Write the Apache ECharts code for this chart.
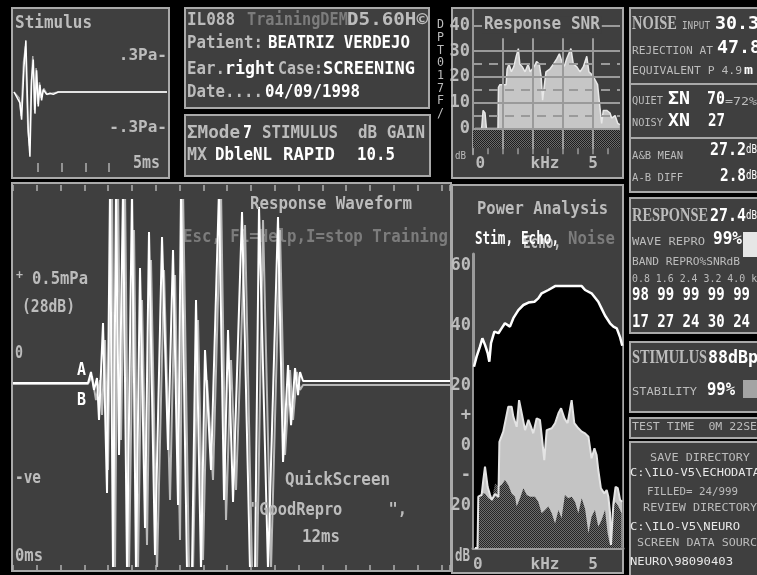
<!DOCTYPE html>
<html>
<head>
<meta charset="utf-8">
<script src="https://cdn.jsdelivr.net/npm/echarts@6/dist/echarts.min.js"></script>
<style>
  html, body { margin: 0; padding: 0; background: #000; }
  #main { width: 757px; height: 575px; }
</style>
</head>
<body>
<div id="main"></div>
<script>
// ---- Stimulus click (ms, Pa), two recordings ----
const stimA = [[0,0],[0.04,0],[0.25,-0.09],[0.32,-0.23],[0.42,0.21],[0.5,0.43],[0.6,-0.33],[0.67,-0.54],[0.74,0.1],[0.81,0.27],[0.88,-0.18],[0.95,0.18],[1.02,-0.12],[1.09,0.06],[1.16,-0.07],[1.23,0.02],[1.37,-0.02],[1.51,-0.01],[1.65,-0.02],[1.86,0],[6.43,0]];
const stimB = [[0,0],[0.04,0],[0.22,-0.05],[0.3,-0.2],[0.4,0.25],[0.48,0.38],[0.58,-0.3],[0.65,-0.45],[0.72,0.05],[0.79,0.3],[0.86,-0.15],[0.93,0.2],[1.0,-0.1],[1.07,0.08],[1.14,-0.05],[1.25,0.03],[1.4,-0.02],[1.6,-0.01],[1.86,0],[6.43,0]];

// ---- Response SNR by frequency (kHz, dB) ----
const snrCurve = [[0.08,0],[0.36,0],[0.42,7],[0.5,6],[0.56,0],[1.04,0],[1.06,16],[1.12,17],[1.38,17],[1.42,23],[1.5,25],[1.6,22],[1.7,24],[1.8,28],[1.89,31],[1.95,25],[2.05,24],[2.17,22],[2.3,25],[2.38,22],[2.45,22],[2.55,24],[2.65,26],[2.76,25],[2.84,20],[2.9,11],[2.98,11],[3.04,22],[3.2,23],[3.35,25],[3.49,27],[3.6,29],[3.7,26],[3.8,24],[3.9,27],[4.08,31],[4.18,25],[4.32,24],[4.46,22],[4.6,24],[4.74,28],[4.83,22],[4.94,21],[5.08,19],[5.19,17],[5.29,8],[5.36,2],[5.43,7],[5.57,7],[5.71,6],[5.78,4],[5.92,5],[6.03,2],[6.12,1.5]];
const snrNoiseFloor = -7.5;
const snrSolidLines = [0, 10, 20, 30, 40];
const snrDashedLines = [5, 15, 25];
const snrFreqLines = [1.25, 2.5, 3.75, 5];

// ---- Power analysis spectra (kHz, dB) ----
const stimSpectrum = [[0.04,26.4],[0.15,29.8],[0.29,33.1],[0.39,35.9],[0.5,33.7],[0.61,31],[0.68,28.1],[0.75,34.3],[0.89,38.1],[1.06,37.6],[1.19,39.2],[1.33,40.9],[1.54,39.8],[1.68,42.6],[1.89,45.3],[2.1,47],[2.31,47.8],[2.56,48.1],[2.72,49.2],[2.86,50.9],[3.14,52],[3.42,53.3],[3.83,53.3],[4.53,53.3],[4.67,52],[4.94,50.9],[5.22,48.1],[5.36,45.8],[5.5,43.5],[5.71,40.9],[5.85,39.8],[5.99,39.2],[6.13,36.2],[6.22,33.4]];
const echoSpectrum = [[0.08,-34],[0.19,-34],[0.22,-16.9],[0.36,-16.3],[0.43,-11.3],[0.5,-6.9],[0.57,-7.4],[0.61,-13.6],[0.71,-16.3],[0.78,-18],[0.92,-16],[1.06,-17],[1.1,1.4],[1.26,4.8],[1.47,13.1],[1.61,13.1],[1.68,9.8],[1.82,6.4],[1.92,15.3],[2.03,10.9],[2.17,5.3],[2.31,8.7],[2.42,6.4],[2.51,4.2],[2.65,9.2],[2.79,8.7],[2.86,3.7],[2.97,-4.7],[3.07,5.3],[3.28,5.9],[3.42,7.6],[3.56,10.9],[3.67,12.6],[3.81,9.2],[3.94,7.6],[4.11,15.3],[4.22,7.6],[4.39,5.9],[4.53,4.8],[4.67,4.2],[4.81,3.1],[4.94,-4.1],[5.06,-0.8],[5.15,-3],[5.22,-8],[5.33,-14.1],[5.47,-15.8],[5.57,-14.7],[5.64,-16.9],[5.71,-22.4],[5.75,-33],[5.85,-19.1],[5.94,-13.6],[6.03,-14],[6.13,-18],[6.22,-18.6]];
const noiseSpectrum = [[0.15,-34],[0.22,-16.9],[0.36,-15.8],[0.5,-15.8],[0.64,-17.4],[0.78,-18],[0.92,-12.4],[1.06,-13.6],[1.19,-13],[1.33,-11.3],[1.47,-13],[1.61,-15.8],[1.75,-16.9],[1.82,-20.2],[1.96,-17.4],[2.1,-14.1],[2.24,-16.3],[2.38,-16.9],[2.58,-16.9],[2.72,-18.6],[2.86,-22.4],[3.0,-21.3],[3.14,-20.2],[3.28,-22.4],[3.42,-25.8],[3.56,-21.3],[3.69,-24.1],[3.83,-16.3],[3.97,-17.4],[4.11,-16.9],[4.25,-18.6],[4.39,-22.4],[4.53,-17.4],[4.67,-21],[4.81,-29.1],[4.94,-23.6],[5.08,-21.3],[5.22,-26.9],[5.36,-24.7],[5.5,-21.3],[5.61,-29.1],[5.71,-33],[5.85,-20.2],[5.94,-18.6],[6.06,-20.2],[6.19,-22.4]];

// ---- Response waveforms A and B (ms, in units of 0.5 mPa; display clips at +/-1) ----
const waveA = [[0,0],[3.151,0],[3.277,0.06],[3.403,-0.038],[3.529,0.027],[3.613,-0.202],[3.782,0.328],[3.95,-0.601],[4.076,1.055],[4.202,-1.022],[4.328,1.055],[4.454,-0.393],[4.622,1.055],[4.79,-1.022],[5.0,1.055],[5.168,-1.022],[5.336,0.628],[5.546,-0.792],[5.714,0.825],[5.966,-0.94],[6.261,0.798],[6.513,-0.366],[6.723,0.727],[6.933,-0.667],[7.059,1.055],[7.311,-1.022],[7.521,-1.022],[7.689,0.454],[7.899,-1.022],[8.067,0.18],[8.319,-0.475],[8.655,1.055],[8.866,-0.639],[9.034,0.29],[9.244,-0.65],[9.622,0.934],[9.958,-1.022],[10.168,-1.022],[10.336,0.962],[10.714,-1.022],[11.134,0.907],[11.345,-0.432],[11.555,0.098],[11.681,-0.23],[11.849,0.082],[11.975,-0.066],[12.059,0.06],[12.185,0.011],[18.36,0.011]];
const waveB = [[0,-0.005],[3.151,-0.005],[3.319,0.038],[3.487,-0.093],[3.655,0.016],[3.739,-0.175],[3.866,0.235],[3.992,-0.475],[4.16,1.055],[4.286,-1.022],[4.412,1.055],[4.538,-0.311],[4.706,1.055],[4.874,-1.022],[5.084,0.836],[5.252,-1.022],[5.42,0.454],[5.63,-0.885],[5.798,0.672],[6.05,-1.022],[6.345,0.617],[6.597,-0.639],[6.807,0.59],[7.017,-0.858],[7.143,1.055],[7.395,-1.022],[7.563,-1.022],[7.773,0.344],[7.983,-0.967],[8.151,0.016],[8.403,-0.53],[8.739,1.055],[8.95,-0.749],[9.16,0.126],[9.37,-0.585],[9.748,0.863],[10.042,-1.022],[10.252,-1.022],[10.504,0.891],[10.84,-1.022],[11.218,0.836],[11.429,-0.393],[11.639,0.071],[11.765,-0.202],[11.933,0.06],[12.059,-0.038],[12.185,-0.011],[18.36,-0.011]];

// ---- Result readouts ----
const bandFreqs = ['0.8', '1.6', '2.4', '3.2', '4.0'];
const bandRepro = [98, 99, 99, 99, 99];
const bandSnr = [17, 27, 24, 30, 24];
const snrTicks = [0, 10, 20, 30, 40];
const powerTicks = [60, 40, 20, 10, 0, -10, -20];
const powerTickText = {60: '60', 40: '40', 20: '20', 10: '+', 0: '0', '-10': '-', '-20': '20'};

// ---- palette ----
const PANEL = '#3f3f3f';
const BORDER = '#a9a9a9';
const GRAY = '#bcbcbc';
const DIM = '#7c7c7c';
const WHITE = '#ffffff';
const MONO = '"DejaVu Sans Mono", "Liberation Mono", monospace';
const SERIF = '"Liberation Serif", "DejaVu Serif", serif';

function stipple(a, b) {
  const c = document.createElement('canvas');
  c.width = 2; c.height = 2;
  const g = c.getContext('2d');
  g.fillStyle = a; g.fillRect(0, 0, 2, 2);
  g.fillStyle = b; g.fillRect(1, 0, 1, 1); g.fillRect(0, 1, 1, 1);
  return { image: c, repeat: 'repeat' };
}

const meas = document.createElement('canvas').getContext('2d');
function T(x, y, str, w, opt) {
  opt = opt || {};
  const size = opt.size || 17;
  const bold = opt.bold == null ? size >= 15 : opt.bold;
  const font = (bold ? 'bold ' : '') + size + 'px ' + (opt.serif ? SERIF : MONO);
  meas.font = font;
  const w0 = meas.measureText(str).width;
  const style = { text: str, font: font, fill: opt.color || GRAY, textAlign: 'left', textVerticalAlign: 'middle', verticalAlign: 'middle' };
  if (opt.bg) { style.backgroundColor = opt.bg; style.padding = [0, 2]; }
  return { type: 'text', x: x, y: y, scaleX: w / w0, scaleY: opt.sy || 1, z: opt.z == null ? 10 : opt.z, silent: true, style: style };
}
function panel(x, y, w, h) {
  return { type: 'rect', z: -10, silent: true, shape: { x: x, y: y, width: w, height: h }, style: { fill: PANEL, stroke: BORDER, lineWidth: 2 } };
}
function hline(x1, x2, y) {
  return { type: 'line', z: -5, silent: true, shape: { x1: x1, y1: y, x2: x2, y2: y }, style: { stroke: BORDER, lineWidth: 2 } };
}

const graphics = [
  panel(12, 8, 157, 170),
  panel(185, 8, 244, 100),
  panel(185, 115, 245, 61),
  panel(452, 8, 171, 170),
  panel(630, 8, 140, 184),
  panel(630, 198, 140, 135),
  panel(630, 342, 140, 70),
  panel(630, 418, 140, 20),
  panel(630, 442, 140, 140),
  panel(12, 183, 439, 388),
  panel(452, 185, 171, 388),
  hline(630, 757, 84), hline(630, 757, 138),

  // stimulus panel
  T(15, 24, 'Stimulus', 77),
  T(133, 164, '5ms', 27),

  // patient block
  T(187, 21, 'IL088', 48),
  T(247, 21, 'TrainingDEMO', 110, { color: DIM }),
  T(347, 21, 'D5.60H©', 81),
  T(187, 44, 'Patient:', 76),
  T(268, 44, 'BEATRIZ VERDEJO', 142, { color: WHITE }),
  T(187, 70, 'Ear.', 38),
  T(225, 70, 'right', 50, { color: WHITE }),
  T(278, 70, 'Case:', 45),
  T(323, 70, 'SCREENING', 92, { color: WHITE }),
  T(187, 93, 'Date....', 76),
  T(265, 93, '04/09/1998', 95, { color: WHITE }),

  // mode block
  T(187, 134, 'ΣMode', 53),
  T(243, 134, '7', 9, { color: WHITE }),
  T(262, 134, 'STIMULUS', 76),
  T(358, 134, 'dB GAIN', 67),
  T(187, 156, 'MX', 20),
  T(215, 156, 'DbleNL', 57, { color: WHITE }),
  T(283, 156, 'RAPID', 52, { color: WHITE }),
  T(357, 156, '10.5', 38, { color: WHITE }),

  // SNR panel
  T(482, 25, 'Response SNR', 116, { bg: PANEL }),
  T(455, 156, 'dB', 11, { size: 11 }),

  // noise block
  T(632, 24, 'NOISE', 45, { serif: true, size: 19 }),
  T(682, 26, 'INPUT', 28, { size: 11 }),
  T(715, 24, '30.3', 44, { color: WHITE, size: 18 }),
  T(632, 51, 'REJECTION AT', 81, { size: 11 }),
  T(717, 48, '47.8', 44, { color: WHITE, size: 18 }),
  T(632, 71, 'EQUIVALENT P 4.9', 110, { size: 11 }),
  T(744, 71, 'm', 9, { size: 12, bold: true, color: WHITE }),
  T(632, 101, 'QUIET', 31, { size: 11 }),
  T(668, 100, 'ΣN', 22, { color: WHITE }),
  T(707, 100, '70', 18, { color: WHITE }),
  T(725, 102, '=72%', 32, { size: 11 }),
  T(632, 123, 'NOISY', 31, { size: 11 }),
  T(668, 122, 'XN', 22, { color: WHITE }),
  T(708, 122, '27', 17, { color: WHITE }),
  T(632, 156, 'A&B MEAN', 51, { size: 11 }),
  T(710, 150, '27.2', 36, { color: WHITE, size: 18 }),
  T(746, 150, 'dB', 11, { color: WHITE, size: 13 }),
  T(632, 178, 'A-B DIFF', 51, { size: 11 }),
  T(720, 176, '2.8', 26, { color: WHITE, size: 18 }),
  T(746, 176, 'dB', 11, { color: WHITE, size: 13 }),

  // response block
  T(632, 216, 'RESPONSE', 76, { serif: true, size: 19 }),
  T(710, 216, '27.4', 36, { color: WHITE, size: 18 }),
  T(746, 216, 'dB', 11, { color: WHITE, size: 13 }),
  T(632, 242, 'WAVE REPRO', 73, { size: 11 }),
  T(713, 240, '99%', 29, { color: WHITE }),
  { type: 'rect', z: 5, silent: true, shape: { x: 743, y: 232, width: 16, height: 25 }, style: { fill: '#e6e6e6' } },
  T(632, 262, 'BAND REPRO%SNRdB', 108, { size: 11 }),
  T(632, 279, bandFreqs.join(' ') + ' kHz', 137, { size: 11 }),
  T(632, 296, bandRepro.join(' '), 118, { color: WHITE }),
  T(632, 323, bandSnr.join(' '), 118, { color: WHITE }),

  // stimulus summary
  T(632, 358, 'STIMULUS', 75, { serif: true, size: 19 }),
  T(708, 358, '88dBp', 50, { color: WHITE, size: 18 }),
  T(632, 392, 'STABILITY', 65, { size: 11 }),
  T(707, 391, '99%', 28, { color: WHITE }),
  { type: 'rect', z: 5, silent: true, shape: { x: 743, y: 380, width: 16, height: 18 }, style: { fill: '#a4a4a4' } },

  // test time & directories
  T(632, 427, 'TEST TIME  0M 22SEC', 132, { size: 11 }),
  T(650, 458, 'SAVE DIRECTORY', 100, { size: 11 }),
  T(630, 473, 'C:\\ILO-V5\\ECHODATA', 130, { size: 11, color: '#e8e8e8' }),
  T(647, 492, 'FILLED= 24/999', 91, { size: 11 }),
  T(643, 508, 'REVIEW DIRECTORY', 114, { size: 11 }),
  T(630, 527, 'C:\\ILO-V5\\NEURO', 110, { size: 11, color: '#e8e8e8' }),
  T(637, 543, 'SCREEN DATA SOURCE', 127, { size: 11 }),
  T(630, 562, 'NEURO\\98090403', 103, { size: 11, color: '#e8e8e8' }),

  // waveform panel
  T(250, 205, 'Response Waveform', 162),
  T(183, 238, 'Esc, F1=Help,I=stop Training', 265, { color: DIM, z: 1 }),
  T(16, 276, '+', 7, { size: 12, bold: true }),
  T(32, 280, '0.5mPa', 56),
  T(22, 308, '(28dB)', 53),
  T(15, 354, '0', 8),
  T(77, 371, 'A', 9, { color: WHITE }),
  T(77, 401, 'B', 9, { color: WHITE }),
  T(15, 479, '-ve', 26),
  T(15, 557, '0ms', 28),
  T(285, 481, 'QuickScreen', 105),
  T(250, 511, '"GoodRepro     ",', 157),
  T(302, 538, '12ms', 38),

  // power panel
  T(477, 210, 'Power Analysis', 131),
  T(475, 240, 'Stim,', 38, { color: WHITE }),
  T(523, 244, 'Echo,', 38, { color: GRAY }),
  T(521, 240, 'Echo,', 38, { color: WHITE }),
  T(568, 240, 'Noise', 47, { color: DIM }),
  T(455, 557, 'dB', 15)
];
'DPT017F/'.split('').forEach(function (ch, i) {
  graphics.push(T(437, 25 + i * 12.7, ch, 7, { size: 12 }));
});

const lbl = { color: GRAY, fontFamily: MONO, fontSize: 16, fontWeight: 'bold' };

const option = {
  backgroundColor: '#000',
  animation: false,
  grid: [
    { left: 14, top: 20, width: 153, height: 144 },
    { left: 473, top: 10, width: 147, height: 144.2 },
    { left: 13, top: 200, width: 437, height: 366 },
    { left: 473, top: 254, width: 150, height: 294 }
  ],
  xAxis: [
    { gridIndex: 0, type: 'value', min: 0, max: 6.43, offset: 8,
      axisLine: { show: false, onZero: false }, splitLine: { show: false }, axisLabel: { show: false },
      axisTick: { inside: true, length: 9, customValues: [1, 2, 3, 4], lineStyle: { color: '#b0b0b0', width: 1.5 } } },
    { gridIndex: 1, type: 'value', min: 0, max: 6.125, interval: 1.25,
      axisLine: { show: false, onZero: false }, splitLine: { show: false },
      axisTick: { inside: true, length: 6, customValues: [0.625, 1.25, 1.875, 2.5, 3.125, 3.75, 4.375, 5, 5.625], lineStyle: { color: '#9a9a9a', width: 1.5 } },
      axisLabel: Object.assign({ margin: 2, customValues: [0.3, 3, 5], formatter: function (v) { return v === 3 ? 'kHz' : (v === 5 ? '5' : '0'); } }, lbl) },
    { gridIndex: 2, type: 'value', min: 0, max: 18.36, interval: 1, offset: 4,
      axisLine: { show: false, onZero: false }, splitLine: { show: false }, axisLabel: { show: false },
      axisTick: { inside: true, length: 5, lineStyle: { color: '#b0b0b0', width: 1.5 } } },
    { gridIndex: 2, type: 'value', position: 'top', min: 0, max: 18.36, interval: 1, offset: 15,
      axisLine: { show: false, onZero: false }, splitLine: { show: false }, axisLabel: { show: false },
      axisTick: { inside: true, length: 6, lineStyle: { color: '#b0b0b0', width: 1.5 } } },
    { gridIndex: 3, type: 'value', min: 0, max: 6.25,
      axisLine: { show: true, onZero: false, lineStyle: { color: '#9a9a9a', width: 3 } }, splitLine: { show: false },
      axisTick: { inside: true, length: 7, customValues: [1.25, 2.5, 3.125, 3.75, 4.375, 5, 5.625], lineStyle: { color: '#9a9a9a', width: 1.5 } },
      axisLabel: Object.assign({ margin: 9, customValues: [0.2, 3, 5], formatter: function (v) { return v === 3 ? 'kHz' : (v === 5 ? '5' : '0'); } }, lbl) }
  ],
  yAxis: [
    { gridIndex: 0, type: 'value', min: -0.6, max: 0.6, position: 'right',
      axisLine: { show: false, onZero: false }, axisTick: { show: false }, splitLine: { show: false },
      axisLabel: Object.assign({ inside: true, margin: 0, customValues: [0.3, -0.3], formatter: function (v) { return v > 0 ? '.3Pa-' : '-.3Pa-'; } }, lbl) },
    { gridIndex: 1, type: 'value', min: -10, max: 46,
      axisLine: { show: true, onZero: false, lineStyle: { color: '#9a9a9a', width: 2 } }, axisTick: { show: false }, splitLine: { show: false },
      axisLabel: Object.assign({ margin: 3, customValues: snrTicks }, lbl, { fontSize: 17 }) },
    { gridIndex: 2, type: 'value', min: -1, max: 1, show: false },
    { gridIndex: 3, type: 'value', min: -34, max: 64,
      axisLine: { show: true, onZero: false, lineStyle: { color: '#9a9a9a', width: 3 } }, axisTick: { show: false }, splitLine: { show: false },
      axisLabel: Object.assign({ margin: 2, customValues: powerTicks, formatter: function (v) { return powerTickText[v]; } }, lbl, { fontSize: 17 }) }
  ],
  series: [
    { type: 'line', xAxisIndex: 0, yAxisIndex: 0, data: stimB, symbol: 'none', lineStyle: { color: '#a8a8a8', width: 1.5 } },
    { type: 'line', xAxisIndex: 0, yAxisIndex: 0, data: stimA, symbol: 'none', lineStyle: { color: WHITE, width: 1.5 } },

    { type: 'line', xAxisIndex: 1, yAxisIndex: 1, data: snrCurve, symbol: 'none',
      lineStyle: { color: '#e8e8e8', width: 1.5 }, areaStyle: { color: '#c6c6c6', opacity: 1, origin: 0 },
      markArea: { silent: true, itemStyle: { color: stipple('#1c1c1c', '#6a6a6a') },
        data: [[{ xAxis: 0, yAxis: 0 }, { xAxis: 6.125, yAxis: snrNoiseFloor }]] },
      markLine: { silent: true, symbol: 'none', label: { show: false },
        data: snrSolidLines.map(function (v) { return { yAxis: v, lineStyle: { color: '#9a9a9a', width: 2, type: 'solid' } }; })
          .concat(snrDashedLines.map(function (v) { return { yAxis: v, lineStyle: { color: '#9a9a9a', width: 2, type: [9, 7] } }; }))
          .concat(snrFreqLines.map(function (f) { return [{ coord: [f, -8], lineStyle: { color: '#9a9a9a', width: 2, type: 'solid' } }, { coord: [f, 35] }]; })) } },

    { type: 'line', xAxisIndex: 2, yAxisIndex: 2, data: waveB, symbol: 'none', lineStyle: { color: '#b8b8b8', width: 2 } },
    { type: 'line', xAxisIndex: 2, yAxisIndex: 2, data: waveA, symbol: 'none', lineStyle: { color: WHITE, width: 2 } },

    { type: 'line', xAxisIndex: 4, yAxisIndex: 3, data: stimSpectrum, symbol: 'none',
      lineStyle: { color: WHITE, width: 2.5 }, areaStyle: { color: '#000', opacity: 1, origin: 'start' } },
    { type: 'line', xAxisIndex: 4, yAxisIndex: 3, data: echoSpectrum, symbol: 'none',
      lineStyle: { color: '#e4e4e4', width: 2 }, areaStyle: { color: '#c4c4c4', opacity: 1, origin: 'start' } },
    { type: 'line', xAxisIndex: 4, yAxisIndex: 3, data: noiseSpectrum, symbol: 'none',
      lineStyle: { width: 0 }, areaStyle: { color: stipple('#262626', '#6e6e6e'), opacity: 1, origin: 'start' } }
  ],
  graphic: { elements: graphics }
};

const chart = echarts.init(document.getElementById('main'), null, { renderer: 'canvas' });
chart.setOption(option);
</script>
</body>
</html>
